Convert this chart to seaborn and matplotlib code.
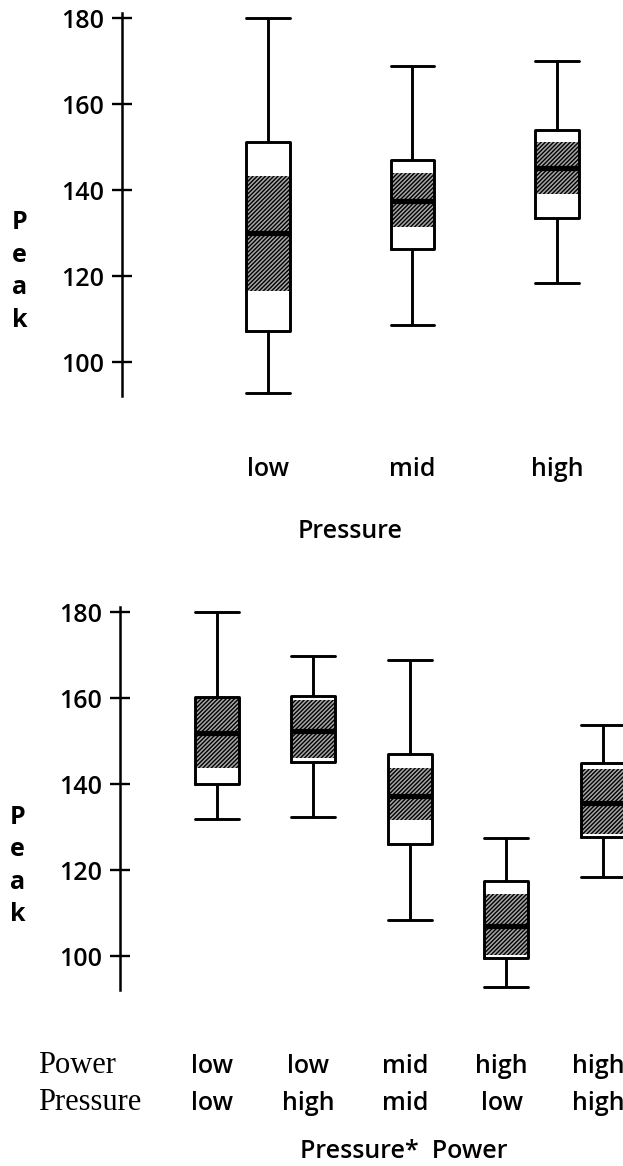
import numpy as np
import pandas as pd
import matplotlib
matplotlib.use("Agg")
import matplotlib.pyplot as plt
import seaborn as sns

# Peak by pressure level: whisker ends, quartiles, median
pressure_levels = ["low", "mid", "high"]
pressure_lower_whisker = [92.9, 108.8, 118.5]
pressure_q1 = [107.4, 126.3, 133.5]
pressure_median = [130.0, 137.4, 145.1]
pressure_q3 = [151.3, 147.0, 154.0]
pressure_upper_whisker = [180.0, 168.9, 170.0]
# shaded interval around each median
pressure_ci_low = [116.6, 131.5, 139.1]
pressure_ci_high = [143.3, 144.0, 151.3]

# Peak by Pressure*Power cell
cell_power = ["low", "low", "mid", "high", "high"]
cell_pressure = ["low", "high", "mid", "low", "high"]
cell_lower_whisker = [132.0, 132.5, 108.5, 93.0, 118.5]
cell_q1 = [140.0, 145.3, 126.1, 99.7, 127.8]
cell_median = [152.0, 152.4, 137.2, 107.0, 135.7]
cell_q3 = [160.2, 160.5, 147.0, 117.6, 145.0]
cell_upper_whisker = [180.0, 169.9, 168.9, 127.5, 153.7]
cell_ci_low = [143.7, 146.1, 131.7, 100.3, 128.5]
cell_ci_high = [160.0, 159.7, 143.9, 114.6, 143.5]

y_ticks = [100, 120, 140, 160, 180]

sns.set_style("ticks")
plt.rcParams["font.family"] = ["Open Sans", "DejaVu Sans"]
plt.rcParams["font.weight"] = "semibold"
plt.rcParams["axes.labelweight"] = "semibold"
plt.rcParams["text.color"] = "black"
plt.rcParams["axes.labelcolor"] = "black"
plt.rcParams["xtick.color"] = "black"
plt.rcParams["ytick.color"] = "black"
plt.rcParams["axes.edgecolor"] = "black"
plt.rcParams["hatch.linewidth"] = 1.0

SANS = 18
SERIF = ["Liberation Serif", "DejaVu Serif"]


def summary_frame(labels, lw, q1, med, q3, uw):
    """Five-number summaries as a long table; with whis=inf the boxplot
    reproduces the quartiles and whisker ends exactly."""
    rows = []
    for lab, *vals in zip(labels, lw, q1, med, q3, uw):
        for v in vals:
            rows.append((lab, v))
    return pd.DataFrame(rows, columns=["group", "Peak"])


def draw_panel(ax, frame, order, ci_low, ci_high, width):
    sns.boxplot(data=frame, x="group", y="Peak", order=order, ax=ax,
                width=width, whis=np.inf, fill=False, color="black",
                linewidth=2.1, showfliers=False, capwidths=width,
                medianprops={"linewidth": 3.8, "color": "black"})
    pos = np.arange(len(order))
    ax.bar(pos, np.subtract(ci_high, ci_low), bottom=ci_low, width=width,
           color="#a6a6a6", edgecolor="black", linewidth=0,
           hatch="////////", zorder=0.5)
    ax.set_ylim(92.2, 181.2)
    ax.set_yticks(y_ticks)
    ax.tick_params(axis="y", left=True, direction="inout", length=14,
                   width=1.7, pad=6, labelsize=SANS)
    ax.tick_params(axis="x", bottom=False, length=0, labelsize=SANS)
    for side in ["top", "right", "bottom"]:
        ax.spines[side].set_visible(False)
    ax.spines["left"].set_linewidth(1.8)
    ax.set_ylabel("")
    # vertical stacked axis title
    for i, ch in enumerate("Peak"):
        ax.text(-0.204, 132.4 - 7.55 * i, ch,
                transform=ax.get_yaxis_transform(),
                ha="center", va="center", fontsize=SANS, fontweight="bold")


fig = plt.figure(figsize=(6.23, 11.66), dpi=100)

# upper panel: Pressure
ax1 = fig.add_axes([0.1958, 0.6604, 0.8042, 0.3285])
top = summary_frame(pressure_levels, pressure_lower_whisker, pressure_q1,
                    pressure_median, pressure_q3, pressure_upper_whisker)
draw_panel(ax1, top, pressure_levels, pressure_ci_low, pressure_ci_high, 0.30)
ax1.set_xlim(-1.01, 2.457)
ax1.set_xticks(range(len(pressure_levels)))
ax1.set_xticklabels(pressure_levels)
ax1.tick_params(axis="x", pad=44)
ax1.set_xlabel("Pressure", fontsize=SANS, fontweight="semibold")
ax1.xaxis.set_label_coords(0.455, -0.32)

# lower panel: Pressure*Power
ax2 = fig.add_axes([0.1926, 0.1509, 0.8074, 0.3285])
cell_keys = [f"{pw}/{pr}" for pw, pr in zip(cell_power, cell_pressure)]
bottom = summary_frame(cell_keys, cell_lower_whisker, cell_q1,
                       cell_median, cell_q3, cell_upper_whisker)
draw_panel(ax2, bottom, cell_keys, cell_ci_low, cell_ci_high, 0.455)
ax2.set_xlim(-1.0, 4.207)
ax2.set_xticks([])
ax2.set_xlabel("Pressure*  Power", fontsize=SANS, fontweight="semibold")
ax2.xaxis.set_label_coords(0.565, -0.39)

# two-level category labels: Power row above Pressure row
row_baselines = [-0.2167, -0.3133]
xform = ax2.get_xaxis_transform()
for i, (pw, pr) in enumerate(zip(cell_power, cell_pressure)):
    ax2.text(i - 0.05, row_baselines[0], pw, transform=xform, ha="center",
             va="baseline", fontsize=SANS)
    ax2.text(i - 0.05, row_baselines[1], pr, transform=xform, ha="center",
             va="baseline", fontsize=SANS)
ax2.text(-0.163, row_baselines[0], "Power", transform=ax2.transAxes,
         ha="left", va="baseline", fontsize=22, family=SERIF,
         fontweight="normal")
ax2.text(-0.163, row_baselines[1], "Pressure", transform=ax2.transAxes,
         ha="left", va="baseline", fontsize=22, family=SERIF,
         fontweight="normal")

fig.savefig("out.png", dpi=100)
